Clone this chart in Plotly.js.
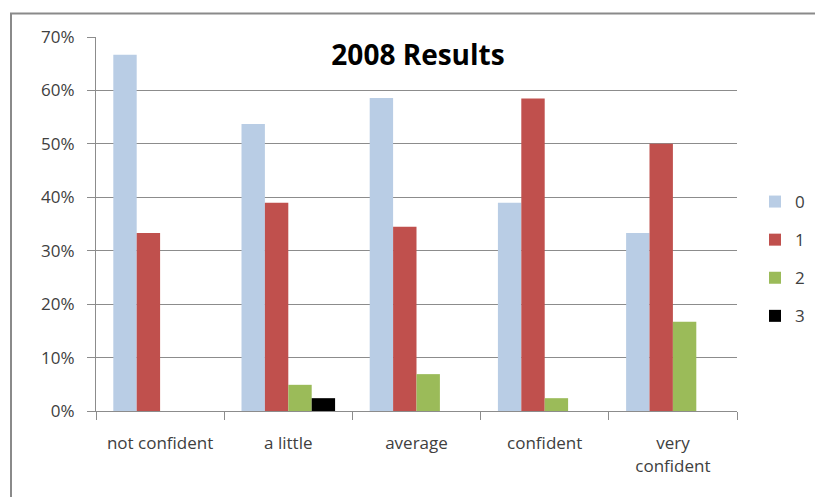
<!DOCTYPE html>
<html>
<head>
<meta charset="utf-8">
<script src="https://cdn.plot.ly/plotly-3.0.1.min.js"></script>
<style>html,body{margin:0;padding:0;background:#fff;}#chart{width:815px;height:497px;}</style>
</head>
<body>
<div id="chart"></div>
<script>
const categories = ["not confident", "a little", "average", "confident", "very<br>confident"];
const seriesNames = ["0", "1", "2", "3"];
const s0 = [0.667, 0.537, 0.586, 0.390, 0.333];
const s1 = [0.333, 0.390, 0.345, 0.585, 0.500];
const s2 = [0.000, 0.049, 0.069, 0.024, 0.167];
const s3 = [0.000, 0.024, 0.000, 0.000, 0.000];
const colors = ["#B9CDE5", "#C0504D", "#9BBB59", "#000000"];
const yTicks = [0, 0.1, 0.2, 0.3, 0.4, 0.5, 0.6, 0.7];

const allSeries = [s0, s1, s2, s3];
const traces = allSeries.map((vals, i) => ({
  type: "bar",
  name: seriesNames[i],
  legendgroup: "g" + i,
  x: categories,
  y: vals,
  marker: {color: colors[i], line: {width: 0}},
  hoverinfo: "none"
}));

const F = "Open Sans, Liberation Sans, Arial, sans-serif";
const layout = {
  width: 815, height: 497,
  margin: {l: 96, r: 78, t: 37, b: 86, autoexpand: false},
  paper_bgcolor: "#ffffff",
  plot_bgcolor: "#ffffff",
  barmode: "group",
  bargap: 0.27,
  bargroupgap: 0,
  font: {family: F, size: 17, color: "#404040"},
  title: {
    text: "<b>2008 Results</b>",
    font: {family: F, size: 28, color: "#000000"},
    x: 418 / 815, xanchor: "center",
    y: 1 - 55 / 497, yanchor: "middle"
  },
  xaxis: {
    type: "category",
    showgrid: false,
    showline: true, linecolor: "#8c8c8c", linewidth: 1,
    ticks: "outside", ticklen: 8, tickcolor: "#8c8c8c",
    tickson: "boundaries",
    tickfont: {family: F, size: 17, color: "#404040"},
    ticklabelstandoff: 17,
    zeroline: false
  },
  yaxis: {
    range: [0, 0.7],
    tickvals: yTicks,
    tickformat: ".0%",
    showgrid: true, gridcolor: "#8c8c8c", gridwidth: 1,
    showline: true, linecolor: "#8c8c8c", linewidth: 1,
    ticks: "outside", ticklen: 8, tickcolor: "#8c8c8c",
    tickfont: {family: F, size: 17, color: "#404040"},
    ticklabelstandoff: 9,
    zeroline: false
  },
  legend: {
    x: (755 - 96) / 641, xanchor: "left",
    y: (411 - 259) / 374, yanchor: "middle",
    font: {family: F, size: 17, color: "#404040"},
    itemwidth: 30,
    traceorder: "grouped",
    tracegroupgap: 13,
    bgcolor: "rgba(0,0,0,0)"
  },
  shapes: [{
    type: "rect", xref: "paper", yref: "paper",
    x0: (11 - 96) / 641, x1: 1.3,
    y0: -0.4, y1: (411 - 13.5) / 374,
    line: {color: "#8a8a8a", width: 2},
    layer: "below"
  }],
  showlegend: true
};

Plotly.newPlot("chart", traces, layout, {displayModeBar: false, staticPlot: true});
</script>
</body>
</html>
